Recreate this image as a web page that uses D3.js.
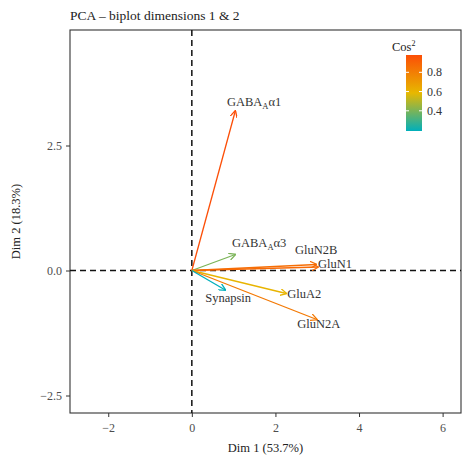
<!DOCTYPE html>
<html>
<head>
<meta charset="utf-8">
<script src="https://cdn.jsdelivr.net/npm/d3@7"></script>
<style>
  body { margin: 0; background: #fff; }
  text { font-family: "Liberation Serif", "DejaVu Serif", serif; }
</style>
</head>
<body>
<div class="chart"></div>
<script>
// variable names, main part + subscript + tail
var varNames = ["GABAAa1", "GABAAa3", "GluN2B", "GluN1", "GluA2", "GluN2A", "Synapsin"];
var nameMain = ["GABA", "GABA", "GluN2B", "GluN1", "GluA2", "GluN2A", "Synapsin"];
var nameSub = ["A", "A", "", "", "", "", ""];
var nameTail = ["\u03b11", "\u03b13", "", "", "", "", ""];

// coordinates on dim 1 and dim 2
var dim1 = [1.04, 1.04, 2.98, 3.02, 2.26, 2.99, 0.80];
var dim2 = [3.19, 0.32, 0.12, 0.07, -0.46, -0.98, -0.39];
var cos2 = [0.98, 0.40, 0.86, 0.88, 0.60, 0.82, 0.19];

// label anchor in data units (repelled labels)
var labX = [0.84, 0.96, 2.47, 3.02, 2.28, 2.52, 0.32];
var labY = [3.29, 0.47, 0.33, 0.05, -0.55, -1.15, -0.63];

var xTicks = [-2, 0, 2, 4, 6];
var yTicks = [-2.5, 0, 2.5];
var legendTicks = [0.4, 0.6, 0.8];
var gradCols = ["#00AFBB", "#E7B800", "#FC4E07"];

const w = 465, h = 471;
const pLeft = 70, pRight = 461, pTop = 30, pBottom = 413;

const svg = d3.select(".chart").append("svg")
  .attr("width", w).attr("height", h);

const xScale = d3.scaleLinear().domain([-2.915, 6.44]).range([pLeft, pRight]);
const yScale = d3.scaleLinear().domain([-2.85, 4.81]).range([pBottom, pTop]);

var cMin = d3.min(cos2), cMax = d3.max(cos2);
const color = d3.scaleLinear()
  .domain([cMin, (cMin + cMax) / 2, cMax])
  .range(gradCols)
  .interpolate(d3.interpolateRgb);

// title
svg.append("text")
  .attr("x", pLeft).attr("y", 20)
  .attr("font-size", 13.5).attr("fill", "#222")
  .text("PCA \u2013 biplot dimensions 1 & 2");

// panel border
svg.append("rect")
  .attr("x", pLeft).attr("y", pTop)
  .attr("width", pRight - pLeft).attr("height", pBottom - pTop)
  .attr("fill", "none").attr("stroke", "#333").attr("stroke-width", 1.1);

// zero lines
svg.append("line")
  .attr("x1", xScale(0)).attr("x2", xScale(0))
  .attr("y1", pTop).attr("y2", pBottom)
  .attr("stroke", "#111").attr("stroke-width", 1.5).attr("stroke-dasharray", "6,4");
svg.append("line")
  .attr("x1", pLeft).attr("x2", pRight)
  .attr("y1", yScale(0)).attr("y2", yScale(0))
  .attr("stroke", "#111").attr("stroke-width", 1.5).attr("stroke-dasharray", "6,4");

// axes
const xAxis = svg.append("g")
  .attr("transform", "translate(0," + pBottom + ")")
  .call(d3.axisBottom(xScale).tickValues(xTicks).tickSize(4).tickPadding(6)
    .tickFormat(d => d < 0 ? "\u2212" + Math.abs(d) : d));
const yAxis = svg.append("g")
  .attr("transform", "translate(" + pLeft + ",0)")
  .call(d3.axisLeft(yScale).tickValues(yTicks).tickSize(4).tickPadding(4)
    .tickFormat(d => (d < 0 ? "\u2212" : "") + Math.abs(d).toFixed(1)));
[xAxis, yAxis].forEach(a => {
  a.select(".domain").remove();
  a.attr("font-size", 12);
  a.selectAll("line").attr("stroke", "#333");
  a.selectAll("text").attr("fill", "#4d4d4d")
    .style("font-family", "Liberation Serif, serif");
});

// axis titles
svg.append("text")
  .attr("x", (pLeft + pRight) / 2).attr("y", 452)
  .attr("text-anchor", "middle").attr("font-size", 12.5).attr("fill", "#222")
  .text("Dim 1 (53.7%)");
svg.append("text")
  .attr("transform", "translate(20," + (pTop + pBottom) / 2 + ") rotate(-90)")
  .attr("text-anchor", "middle").attr("font-size", 12.5).attr("fill", "#222")
  .text("Dim 2 (18.3%)");

// arrow heads, one per color
const defs = svg.append("defs");
varNames.forEach((n, i) => {
  defs.append("marker")
    .attr("id", "arr" + i)
    .attr("viewBox", "0 0 10 10")
    .attr("refX", 9).attr("refY", 5)
    .attr("markerWidth", 7).attr("markerHeight", 7)
    .attr("markerUnits", "userSpaceOnUse")
    .attr("orient", "auto")
    .append("path")
    .attr("d", "M0,0 L10,5 L0,10")
    .attr("fill", "none")
    .attr("stroke", color(cos2[i]))
    .attr("stroke-width", 1.8);
});

// arrows
svg.selectAll(".arrow")
  .data(varNames)
  .enter()
  .append("line")
  .attr("class", "arrow")
  .attr("x1", xScale(0)).attr("y1", yScale(0))
  .attr("x2", (d, i) => xScale(dim1[i]))
  .attr("y2", (d, i) => yScale(dim2[i]))
  .attr("stroke", (d, i) => color(cos2[i]))
  .attr("stroke-width", 1.3)
  .attr("marker-end", (d, i) => "url(#arr" + i + ")");

// labels
varNames.forEach((n, i) => {
  const t = svg.append("text")
    .attr("x", xScale(labX[i])).attr("y", yScale(labY[i]))
    .attr("font-size", 12.5).attr("fill", "#333");
  t.append("tspan").text(nameMain[i]);
  if (nameSub[i]) {
    t.append("tspan").attr("dy", 3).attr("font-size", 8.5).text(nameSub[i]);
    t.append("tspan").attr("dy", -3).text(nameTail[i]);
  }
});

// legend
const lx = 406, ly0 = 55, ly1 = 131, lw = 16;
const legScale = d3.scaleLinear().domain([cMin, cMax]).range([ly1, ly0]);
const grad = defs.append("linearGradient")
  .attr("id", "cosgrad").attr("x1", 0).attr("x2", 0).attr("y1", 1).attr("y2", 0);
gradCols.forEach((c, i) => {
  grad.append("stop").attr("offset", i / (gradCols.length - 1)).attr("stop-color", c);
});
svg.append("rect")
  .attr("x", lx).attr("y", ly0).attr("width", lw).attr("height", ly1 - ly0)
  .attr("fill", "url(#cosgrad)");
legendTicks.forEach(v => {
  svg.append("line").attr("x1", lx).attr("x2", lx + 3)
    .attr("y1", legScale(v)).attr("y2", legScale(v))
    .attr("stroke", "#fff").attr("stroke-width", 1);
  svg.append("line").attr("x1", lx + lw - 3).attr("x2", lx + lw)
    .attr("y1", legScale(v)).attr("y2", legScale(v))
    .attr("stroke", "#fff").attr("stroke-width", 1);
  svg.append("text").attr("x", lx + lw + 5).attr("y", legScale(v) + 4)
    .attr("font-size", 12).attr("fill", "#333").text(v.toFixed(1));
});
const lt = svg.append("text").attr("x", 392).attr("y", 51)
  .attr("font-size", 12.5).attr("fill", "#222");
lt.append("tspan").text("Cos");
lt.append("tspan").attr("dy", -5).attr("font-size", 8).text("2");
</script>
</body>
</html>
